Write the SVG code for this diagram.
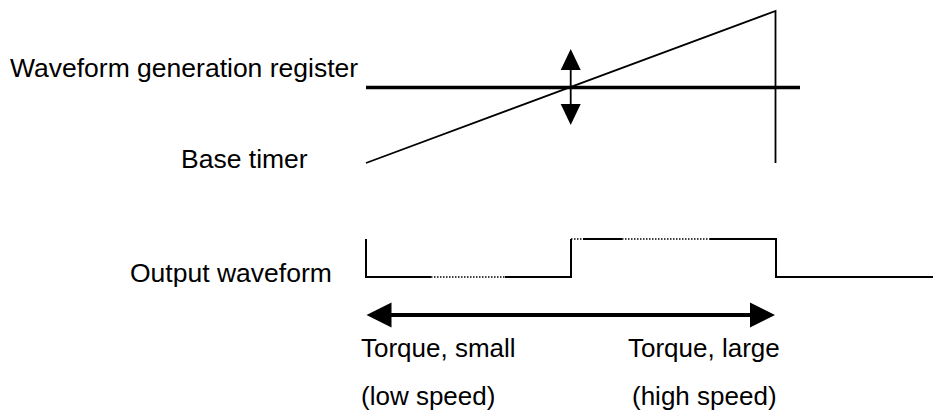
<svg xmlns="http://www.w3.org/2000/svg" width="933" height="412" viewBox="0 0 933 412">
  <style>
    .lbl { font-family: "Liberation Sans", Arial, sans-serif; font-size: 26.5px; fill: #000; }
    .cap { font-family: "Liberation Sans", Arial, sans-serif; font-size: 26px; fill: #000; }
    .ln { fill: none; stroke: #000; stroke-linecap: butt; }
    .wave { fill: none; stroke: #000; stroke-width: 2; }
    .dot { fill: none; stroke: #000; stroke-width: 1.6; stroke-dasharray: 1.5 1.5; }
    .head { fill: #000; stroke: none; }
  </style>
  <rect width="933" height="412" fill="#fff"/>

  <!-- Labels -->
  <g id="label-register"><text class="lbl" x="10" y="77">Waveform generation register</text></g>
  <g id="label-timer"><text class="lbl" x="181" y="168">Base timer</text></g>
  <g id="label-output"><text class="lbl" x="130" y="282">Output waveform</text></g>
  <g id="label-small">
    <text class="cap" x="361" y="357">Torque, small</text>
    <text class="cap" x="361" y="405">(low speed)</text>
  </g>
  <g id="label-large">
    <text class="cap" x="628" y="357">Torque, large</text>
    <text class="cap" x="632" y="405">(high speed)</text>
  </g>

  <!-- Register level and sawtooth timer -->
  <g id="register-level">
    <line class="ln" x1="366" y1="87.5" x2="800" y2="87.5" stroke-width="3.5"/>
  </g>
  <g id="base-timer">
    <polyline class="ln" points="366,163 775.5,11 775.5,163" stroke-width="1.8"/>
  </g>

  <!-- Output waveform: solid runs with dotted gaps -->
  <g id="output-waveform">
    <polyline class="wave" points="366,239 366,277 431,277"/>
    <line class="dot" x1="431" y1="277" x2="505" y2="277"/>
    <polyline class="wave" points="505,277 571,277 571,239"/>
    <line class="dot" x1="571" y1="239" x2="583" y2="239"/>
    <line class="wave" x1="583" y1="239" x2="622" y2="239"/>
    <line class="dot" x1="622" y1="239" x2="710" y2="239"/>
    <polyline class="wave" points="710,239 776,239 776,277 933,277"/>
  </g>

  <!-- Arrows -->
  <g id="connectors">
    <!-- adjustable register level -->
    <line class="ln" x1="570.7" y1="68" x2="570.7" y2="106" stroke-width="1.8"/>
    <polygon class="head" points="570.7,49 560.7,70 580.7,70"/>
    <polygon class="head" points="570.7,125 560.7,104 580.7,104"/>
    <!-- torque range -->
    <line class="ln" x1="390" y1="315" x2="752" y2="315" stroke-width="4"/>
    <polygon class="head" points="366.5,315 391.5,302.5 391.5,327.5"/>
    <polygon class="head" points="775,315 750,302.5 750,327.5"/>
  </g>
</svg>
